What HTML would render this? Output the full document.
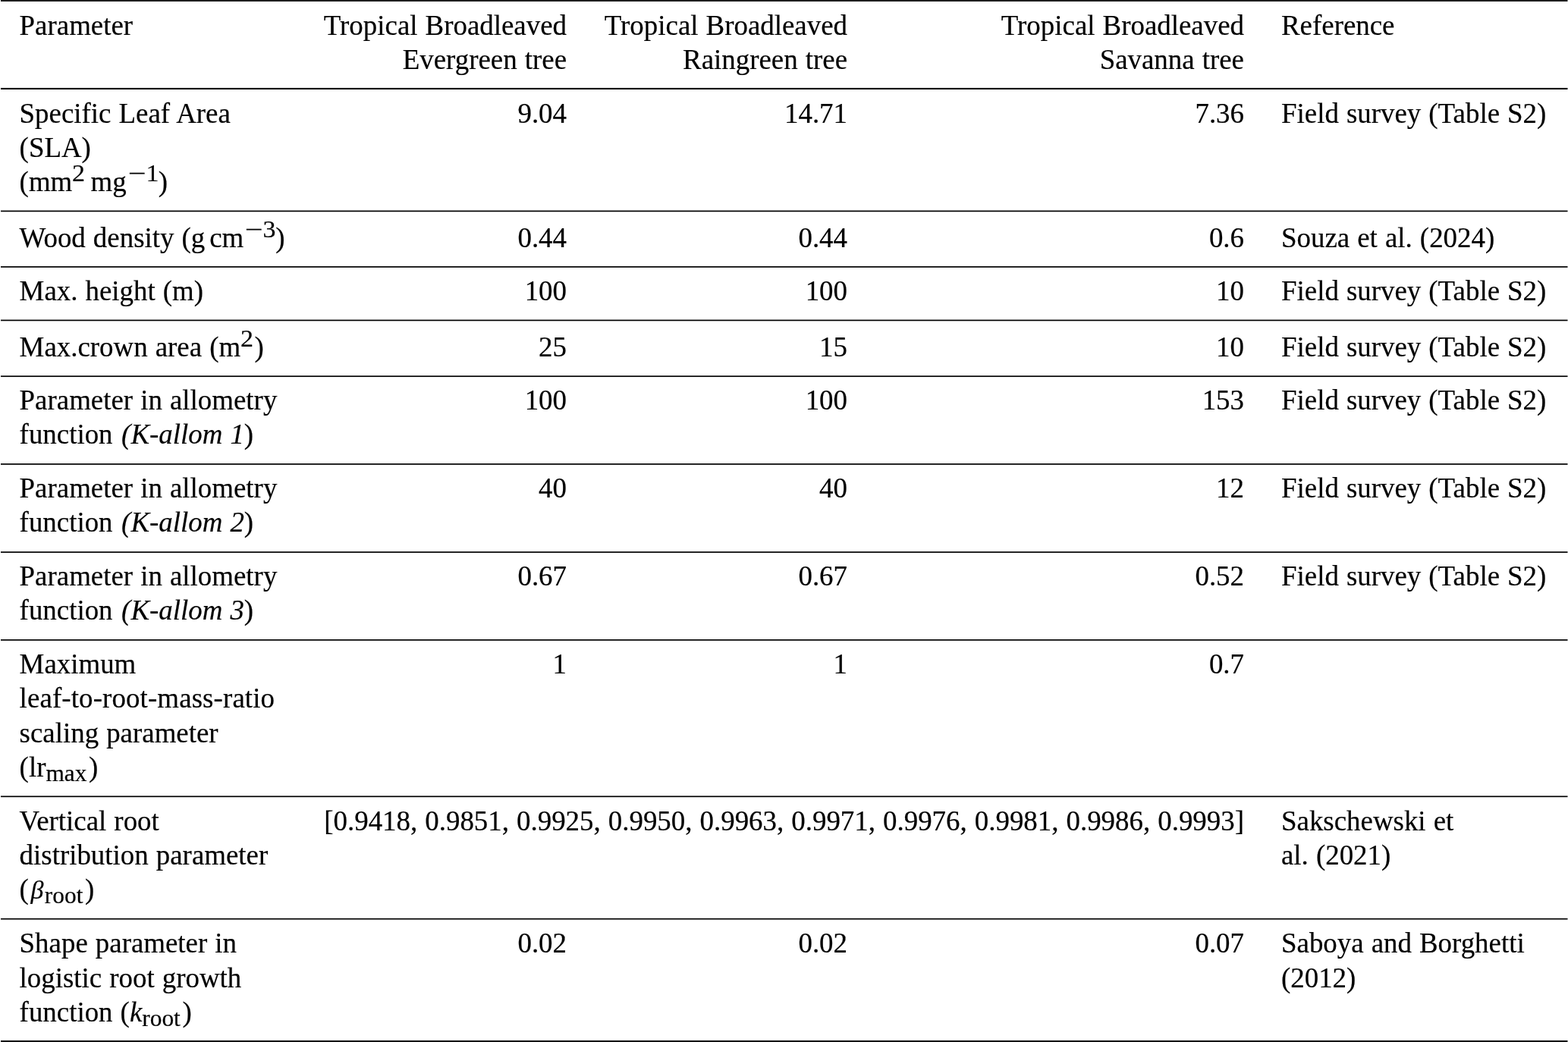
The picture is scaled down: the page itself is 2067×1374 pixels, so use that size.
<!DOCTYPE html>
<html lang="en"><head><meta charset="utf-8"><title>PFT parameter table</title>
<style>
html,body{margin:0;padding:0;background:#fff;}
body{width:2067px;height:1374px;position:relative;overflow:hidden;font-family:"Liberation Serif","Times New Roman",Times,serif;font-size:36.9px;color:#000;-webkit-text-stroke:0.2px #000;word-spacing:0.85px;}
svg.rules{position:absolute;left:0;top:0;}
.t{position:absolute;white-space:nowrap;line-height:1;}
.sp{position:relative;font-size:31.4px;font-style:normal;margin-right:1.5px;}
.mn{display:inline-block;transform:scaleX(1.33);margin:0 2px 0 4px;}
.th{display:inline-block;width:6px;}
.bt{font-size:34px;margin-left:2.5px;margin-right:1.5px;}
.sb{margin-right:2.6px;}
.ka{margin-left:1.5px;}
.su{display:inline-block;transform:scaleX(1.08);transform-origin:0 50%;margin-right:2.6px;}
.su .mn{transform:scaleX(1.24);}
</style></head><body>
<svg class="rules" width="2067" height="1374" viewBox="0 0 2067 1374">
<rect x="1" y="0.00" width="2065.5" height="2.0" fill="#1e1e1e"/>
<rect x="1" y="115.90" width="2065.5" height="2.1" fill="#0a0a0a"/>
<rect x="1" y="1371.90" width="2065.5" height="2.1" fill="#151515"/>
<rect x="1" y="277.55" width="2065.5" height="1.7" fill="#000"/>
<rect x="1" y="351.05" width="2065.5" height="1.7" fill="#000"/>
<rect x="1" y="421.55" width="2065.5" height="1.7" fill="#000"/>
<rect x="1" y="495.35" width="2065.5" height="1.7" fill="#000"/>
<rect x="1" y="611.15" width="2065.5" height="1.7" fill="#000"/>
<rect x="1" y="727.25" width="2065.5" height="1.7" fill="#000"/>
<rect x="1" y="843.05" width="2065.5" height="1.7" fill="#000"/>
<rect x="1" y="1049.45" width="2065.5" height="1.7" fill="#000"/>
<rect x="1" y="1210.85" width="2065.5" height="1.7" fill="#000"/>
</svg>
<div class="t" style="left:25.6px;top:16.10px">Parameter</div>
<div class="t" style="right:1320.0px;top:16.10px">Tropical Broadleaved</div>
<div class="t" style="right:1320.0px;top:61.10px">Evergreen tree</div>
<div class="t" style="right:950.0px;top:16.10px">Tropical Broadleaved</div>
<div class="t" style="right:950.0px;top:61.10px">Raingreen tree</div>
<div class="t" style="right:427.0px;top:16.10px">Tropical Broadleaved</div>
<div class="t" style="right:427.0px;top:61.10px">Savanna tree</div>
<div class="t" style="left:1689.0px;top:16.10px">Reference</div>
<div class="t" style="left:25.6px;top:132.10px">Specific Leaf Area</div>
<div class="t" style="left:25.6px;top:177.10px">(SLA)</div>
<div class="t" style="left:25.6px;top:222.10px">(mm<span class="sp su" style="top:-13.2px">2</span><span class="th"></span>mg<span class="sp su" style="top:-13.2px"><span class="mn">−</span>1</span>)</div>
<div class="t" style="right:1320.0px;top:132.10px">9.04</div>
<div class="t" style="right:950.0px;top:132.10px">14.71</div>
<div class="t" style="right:427.0px;top:132.10px">7.36</div>
<div class="t" style="left:1689.0px;top:132.10px">Field survey (Table S2)</div>
<div class="t" style="left:25.6px;top:296.10px">Wood density (g<span class="th"></span>cm<span class="sp su" style="top:-13.2px"><span class="mn">−</span>3</span>)</div>
<div class="t" style="right:1320.0px;top:296.10px">0.44</div>
<div class="t" style="right:950.0px;top:296.10px">0.44</div>
<div class="t" style="right:427.0px;top:296.10px">0.6</div>
<div class="t" style="left:1689.0px;top:296.10px">Souza et al. (2024)</div>
<div class="t" style="left:25.6px;top:366.10px">Max. height (m)</div>
<div class="t" style="right:1320.0px;top:366.10px">100</div>
<div class="t" style="right:950.0px;top:366.10px">100</div>
<div class="t" style="right:427.0px;top:366.10px">10</div>
<div class="t" style="left:1689.0px;top:366.10px">Field survey (Table S2)</div>
<div class="t" style="left:25.6px;top:440.10px">Max.crown area (m<span class="sp su" style="top:-13.2px">2</span>)</div>
<div class="t" style="right:1320.0px;top:440.10px">25</div>
<div class="t" style="right:950.0px;top:440.10px">15</div>
<div class="t" style="right:427.0px;top:440.10px">10</div>
<div class="t" style="left:1689.0px;top:440.10px">Field survey (Table S2)</div>
<div class="t" style="left:25.6px;top:510.10px">Parameter in allometry</div>
<div class="t" style="left:25.6px;top:555.10px">function <i class="ka">(K-allom 1</i>)</div>
<div class="t" style="right:1320.0px;top:510.10px">100</div>
<div class="t" style="right:950.0px;top:510.10px">100</div>
<div class="t" style="right:427.0px;top:510.10px">153</div>
<div class="t" style="left:1689.0px;top:510.10px">Field survey (Table S2)</div>
<div class="t" style="left:25.6px;top:626.10px">Parameter in allometry</div>
<div class="t" style="left:25.6px;top:671.10px">function <i class="ka">(K-allom 2</i>)</div>
<div class="t" style="right:1320.0px;top:626.10px">40</div>
<div class="t" style="right:950.0px;top:626.10px">40</div>
<div class="t" style="right:427.0px;top:626.10px">12</div>
<div class="t" style="left:1689.0px;top:626.10px">Field survey (Table S2)</div>
<div class="t" style="left:25.6px;top:742.10px">Parameter in allometry</div>
<div class="t" style="left:25.6px;top:787.10px">function <i class="ka">(K-allom 3</i>)</div>
<div class="t" style="right:1320.0px;top:742.10px">0.67</div>
<div class="t" style="right:950.0px;top:742.10px">0.67</div>
<div class="t" style="right:427.0px;top:742.10px">0.52</div>
<div class="t" style="left:1689.0px;top:742.10px">Field survey (Table S2)</div>
<div class="t" style="left:25.6px;top:858.10px">Maximum</div>
<div class="t" style="left:25.6px;top:903.10px"><span style="letter-spacing:0.115px">leaf-to-root-mass-ratio</span></div>
<div class="t" style="left:25.6px;top:949.10px">scaling parameter</div>
<div class="t" style="left:25.6px;top:994.10px">(lr<span class="sp sb" style="top:5.9px">max</span>)</div>
<div class="t" style="right:1320.0px;top:858.10px">1</div>
<div class="t" style="right:950.0px;top:858.10px">1</div>
<div class="t" style="right:427.0px;top:858.10px">0.7</div>
<div class="t" style="left:25.6px;top:1065.10px">Vertical root</div>
<div class="t" style="left:25.6px;top:1110.10px">distribution parameter</div>
<div class="t" style="left:25.6px;top:1155.10px">(<i class="bt">β</i><span class="sp sb" style="top:5.9px">root</span>)</div>
<div class="t" style="right:427.0px;top:1065.10px">[0.9418, 0.9851, 0.9925, 0.9950, 0.9963, 0.9971, 0.9976, 0.9981, 0.9986, 0.9993]</div>
<div class="t" style="left:1689.0px;top:1065.10px">Sakschewski et</div>
<div class="t" style="left:1689.0px;top:1110.10px">al. (2021)</div>
<div class="t" style="left:25.6px;top:1226.10px">Shape parameter in</div>
<div class="t" style="left:25.6px;top:1272.10px">logistic root growth</div>
<div class="t" style="left:25.6px;top:1317.10px">function (<i>k</i><span class="sp sb" style="top:5.9px">root</span>)</div>
<div class="t" style="right:1320.0px;top:1226.10px">0.02</div>
<div class="t" style="right:950.0px;top:1226.10px">0.02</div>
<div class="t" style="right:427.0px;top:1226.10px">0.07</div>
<div class="t" style="left:1689.0px;top:1226.10px">Saboya and Borghetti</div>
<div class="t" style="left:1689.0px;top:1272.10px">(2012)</div>
</body></html>
